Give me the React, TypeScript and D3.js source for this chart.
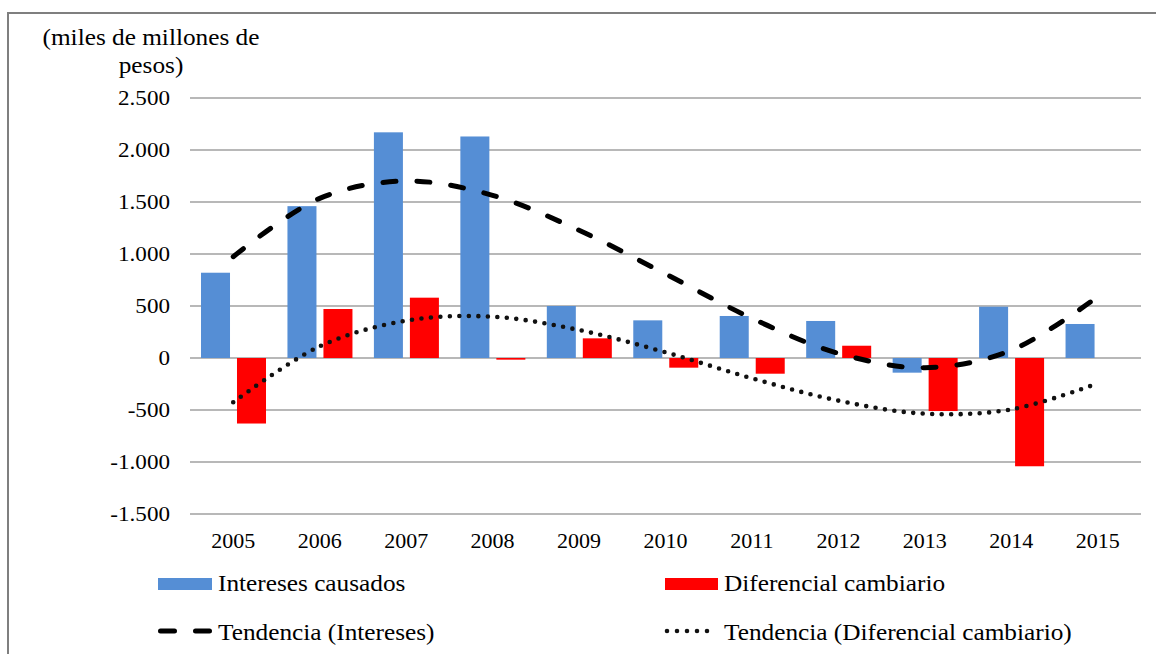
import React from 'react';
import * as d3 from 'd3';

const years = ['2005','2006','2007','2008','2009','2010','2011','2012','2013','2014','2015'];
const intereses = [820, 1460, 2170, 2130, 500, 362, 404, 356, -141, 493, 327];
const diferencial: (number | null)[] = [-630, 471, 580, -16, 189, -93, -151, 118, -510, -1041, null];
const tendInteres = [974, 1535, 1702, 1564, 1228, 808, 382, 45, -93, 74, 590];
const tendDif = [-426, 112, 359, 397, 269, 55, -195, -410, -535, -494, -244];
const yTicks = [-1500, -1000, -500, 0, 500, 1000, 1500, 2000, 2500];
const titleLines = ['(miles de millones de', 'pesos)'];
const legendLabels = ['Intereses causados', 'Diferencial cambiario', 'Tendencia (Intereses)', 'Tendencia (Diferencial cambiario)'];

const BLUE = '#558ED5';
const RED = '#FF0000';
const FONT = 'Liberation Serif';
const SX = 1.1;

const locale = d3.formatLocale({ decimal: ',', thousands: '.', grouping: [3], currency: ['$', ''], minus: '-' });
const fmt = locale.format(',d');

function T({ x, y, anchor = 'start', size, children }: any) {
  return (
    <text transform={`translate(${x},${y}) scale(${SX},1)`} textAnchor={anchor} fill="#000" fontFamily={FONT} fontSize={size}>
      {children}
    </text>
  );
}

export default function App() {
  const W = 1156, H = 654;
  const x = d3.scaleBand<string>().domain(years).range([190, 1141]).padding(0);
  const y = d3.scaleLinear().domain([-1500, 2500]).range([514, 98]);
  const sub = d3.scaleBand<string>().domain(['a', 'b']).range([11, 76]).paddingInner(0.194).paddingOuter(0);
  const cx = (i: number) => (x(years[i]) as number) + x.bandwidth() / 2;

  const line = d3.line<number>().x((_, i) => cx(i)).y(d => y(d)).curve(d3.curveCatmullRom.alpha(0.5));

  return (
    <svg width={W} height={H} style={{ position: 'absolute', left: 0, top: 0, background: '#fff' }}>
      <rect x={0} y={0} width={W} height={H} fill="#fff" />
      <rect x={8} y={13} width={1300} height={800} fill="none" stroke="#7f7f7f" strokeWidth={2} />
      {titleLines.map((t, i) => (
        <T key={i} x={151} y={45 + i * 28} anchor="middle" size={23}>{t}</T>
      ))}
      {yTicks.map(t => (
        <g key={t}>
          <line x1={190} x2={1141} y1={y(t)} y2={y(t)} stroke="#a0a0a0" strokeWidth={1.5} />
          <T x={170} y={y(t) + 7} anchor="end" size={21}>{fmt(t)}</T>
        </g>
      ))}
      {years.map((yr, i) => {
        const x0 = x(yr) as number;
        const v1 = intereses[i];
        const v2 = diferencial[i];
        return (
          <g key={yr}>
            <rect x={x0 + (sub('a') as number)} width={sub.bandwidth()} y={Math.min(y(v1), y(0))} height={Math.abs(y(v1) - y(0))} fill={BLUE} />
            {v2 !== null && (
              <rect x={x0 + (sub('b') as number)} width={sub.bandwidth()} y={Math.min(y(v2), y(0))} height={Math.max(1.5, Math.abs(y(v2) - y(0)))} fill={RED} />
            )}
            <T x={cx(i)} y={548} anchor="middle" size={20}>{yr}</T>
          </g>
        );
      })}
      <path d={line(tendInteres) || ''} fill="none" stroke="#000" strokeWidth={5} strokeDasharray="13 21" strokeLinecap="round" />
      <path d={line(tendDif) || ''} fill="none" stroke="#111" strokeWidth={4.6} strokeDasharray="0 9.5" strokeLinecap="round" />

      <rect x={158} y={578} width={54} height={12} fill={BLUE} />
      <T x={218} y={591} size={23}>{legendLabels[0]}</T>
      <rect x={665} y={578} width={53} height={12} fill={RED} />
      <T x={724} y={591} size={23}>{legendLabels[1]}</T>
      <line x1={160.5} x2={209.5} y1={631} y2={631} stroke="#000" strokeWidth={5} strokeDasharray="14 21" strokeLinecap="round" />
      <T x={218} y={640} size={23}>{legendLabels[2]}</T>
      <line x1={667} x2={717} y1={631} y2={631} stroke="#111" strokeWidth={4.6} strokeDasharray="0 10" strokeLinecap="round" />
      <T x={724} y={640} size={23}>{legendLabels[3]}</T>
    </svg>
  );
}
